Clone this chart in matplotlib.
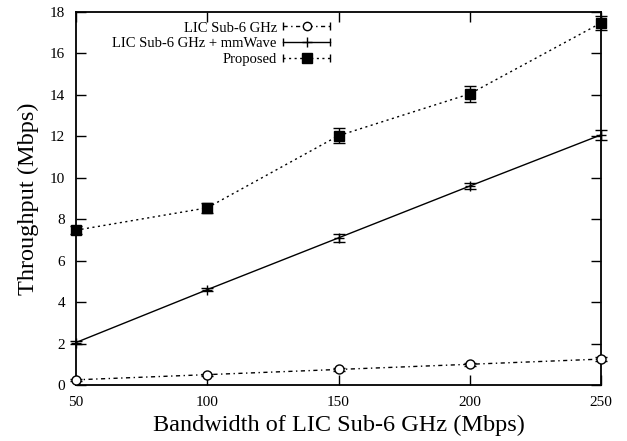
import matplotlib.pyplot as plt
from matplotlib.lines import Line2D
from matplotlib.legend_handler import HandlerLine2D, HandlerTuple

plt.rcParams['font.family'] = ['Liberation Serif', 'DejaVu Serif']

# 带宽 (Mbps)
bandwidth = [50, 100, 150, 200, 250]

# 吞吐量及误差 (Mbps)
lic_sub6 = [0.25, 0.5, 0.75, 1.0, 1.25]
lic_sub6_err = [0.05, 0.05, 0.06, 0.08, 0.08]
lic_mmwave = [2.05, 4.6, 7.1, 9.6, 12.07]
lic_mmwave_err = [0.05, 0.08, 0.2, 0.15, 0.24]
proposed = [7.47, 8.55, 12.03, 14.05, 17.47]
proposed_err = [0.2, 0.25, 0.35, 0.4, 0.34]

labels = ['LIC Sub-6 GHz', 'LIC Sub-6 GHz + mmWave', 'Proposed']

fig = plt.figure(figsize=(6.27, 4.41), dpi=100)
ax = fig.add_axes([76 / 627, 1 - 385 / 441, 525 / 627, 373 / 441])

styles = [
    dict(y=lic_sub6, err=lic_sub6_err, ls=(0, (3, 2.5, 1, 2.5)), marker='o', mfc='white', ms=6.5),
    dict(y=lic_mmwave, err=lic_mmwave_err, ls='-', marker='+', mfc='black', ms=7),
    dict(y=proposed, err=proposed_err, ls=(0, (1.5, 2.5)), marker='s', mfc='black', ms=7),
]

handles = []
hmap = {}
for s in styles:
    ax.errorbar(bandwidth, s['y'], yerr=s['err'], color='black', lw=1.0,
                ls=s['ls'], marker=s['marker'], mfc=s['mfc'], mec='black',
                ms=s['ms'], mew=1.0, capsize=4, elinewidth=1.0, capthick=1.0,
                clip_on=False, zorder=3)
    main = Line2D([], [], color='black', lw=1.0, ls=s['ls'], marker=s['marker'],
                  mfc=s['mfc'], mec='black', ms=s['ms'] - 0.5, mew=1.0)
    caps = Line2D([], [], color='black', lw=0, marker='|', ms=6, mew=1.0)
    hmap[caps] = HandlerLine2D(numpoints=2, marker_pad=0)
    handles.append((main, caps))

hmap[tuple] = HandlerTuple(ndivide=1, pad=0)
ax.legend(handles, labels, handler_map=hmap, loc='upper right',
          bbox_to_anchor=((330 - 76) / 525, 0.975), frameon=False,
          markerfirst=False, fontsize=10.5, handlelength=3.2,
          handletextpad=0.45, labelspacing=0.16, borderpad=0, borderaxespad=0)

ax.set_xlim(50, 250)
ax.set_ylim(0, 18)
ax.set_xticks(bandwidth)
ax.set_yticks(range(0, 19, 2))
ax.tick_params(direction='in', length=7, width=1.0, top=True, right=True,
               labelsize=11, pad=8)
for sp in ax.spines.values():
    sp.set_linewidth(1.3)

ax.set_xlabel('Bandwidth of LIC Sub-6 GHz (Mbps)', fontsize=17.5, labelpad=4)
ax.set_ylabel('Throughput (Mbps)', fontsize=17.5, labelpad=8)

fig.savefig('out.png', dpi=100)
